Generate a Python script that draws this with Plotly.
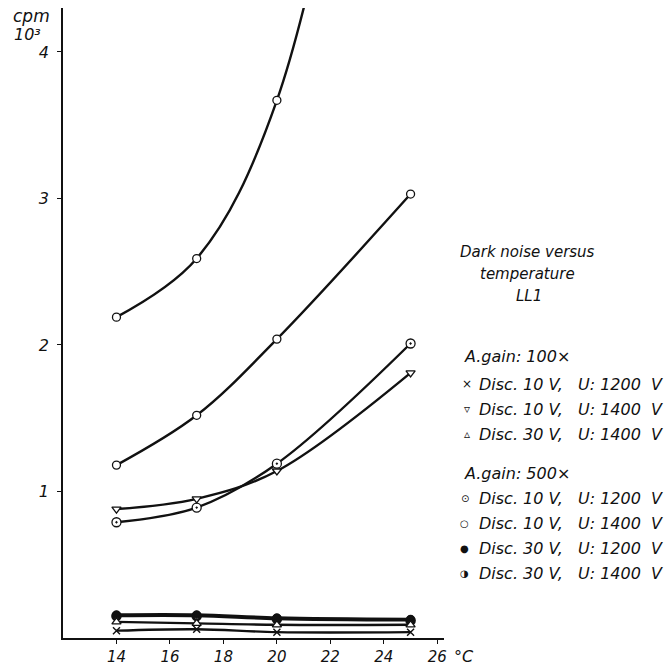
import plotly.graph_objects as go

temps = [14, 17, 20, 25]

# A.gain 100x
g100_d10_u1200 = [0.05, 0.06, 0.04, 0.04]   # x
g100_d10_u1400 = [0.88, 0.95, 1.14, 1.81]   # triangle down
g100_d30_u1400 = [0.11, 0.10, 0.09, 0.09]   # triangle up
# A.gain 500x
g500_d10_u1200 = [0.79, 0.89, 1.19, 2.01]   # circle with dot
g500_d10_u1400_a = [1.18, 1.52, 2.04, 3.03]  # open circle (lower)
g500_d10_u1400_b = [2.19, 2.59, 3.67, 8.0]   # open circle (upper, leaves chart)
g500_d30_u1200 = [0.16, 0.16, 0.14, 0.13]   # filled circle
g500_d30_u1400 = [0.15, 0.15, 0.13, 0.12]   # half circle

x_ticks = [14, 16, 18, 20, 22, 24, 26]
y_ticks = [1, 2, 3, 4]

FONT = "DejaVu Sans"
BLACK = "#111111"

fig = go.Figure()

def add(y, symbol, fill, size=8, lw=1.4):
    fig.add_trace(go.Scatter(
        x=temps, y=y, mode="lines+markers",
        line=dict(color=BLACK, width=2.4, shape="spline", smoothing=1.0),
        marker=dict(symbol=symbol, size=size, color=fill,
                    line=dict(color=BLACK, width=lw)),
        showlegend=False, hoverinfo="skip",
    ))

add(g500_d30_u1400, "circle", "white", 8, 2.6)
add(g500_d30_u1200, "circle", BLACK, 7, 1.4)
add(g100_d30_u1400, "triangle-up", "white", 8, 1.3)
add(g100_d10_u1200, "x-thin", BLACK, 7, 1.4)
add(g500_d10_u1200, "circle-dot", "white", 9, 1.3)
add(g100_d10_u1400, "triangle-down", "white", 8, 1.3)
add(g500_d10_u1400_a, "circle", "white", 8, 1.3)
add(g500_d10_u1400_b, "circle", "white", 8, 1.3)

L, R, T, B = 63, 225, 8, 32
W, H = 669, 670
PW, PH = W - L - R, H - T - B

def px(x):
    return (x - L) / PW

def py(y):
    return (H - B - y) / PH

def ann(text, x, y, xanchor="left", size=16):
    fig.add_annotation(text=text, x=px(x), y=py(y), xref="paper", yref="paper",
                       xanchor=xanchor, yanchor="middle", showarrow=False,
                       font=dict(family=FONT, size=size, color=BLACK, style="italic"))

ann("cpm", 31, 16, "center", 17)
ann("10³", 27, 35, "center", 16)
ann("°C", 464, 657, "center", 16)

ann("Dark noise versus", 527, 252, "center", 15)
ann("temperature", 527, 274, "center", 15)
ann("LL1", 529, 296, "center", 15)

NB = "\u00a0"
ann("A.gain: 100×", 462, 356)
rows100 = [("×", "Disc. 10 V," + NB * 3 + "U: 1200" + NB * 2 + "V"),
           ("▿", "Disc. 10 V," + NB * 3 + "U: 1400" + NB * 2 + "V"),
           ("▵", "Disc. 30 V," + NB * 3 + "U: 1400" + NB * 2 + "V")]
for i, (s, t) in enumerate(rows100):
    yy = 384 + i * 25
    ann(s, 467, yy, "center", 12)
    ann(t, 477, yy)

ann("A.gain: 500×", 462, 473)
rows500 = [("⊙", "Disc. 10" + NB + "V," + NB * 3 + "U: 1200" + NB * 2 + "V"),
           ("○", "Disc. 10" + NB + "V," + NB * 3 + "U: 1400" + NB * 2 + "V"),
           ("●", "Disc. 30" + NB + "V," + NB * 3 + "U: 1200" + NB * 2 + "V"),
           ("◑", "Disc. 30" + NB + "V," + NB * 3 + "U: 1400" + NB * 2 + "V")]
for i, (s, t) in enumerate(rows500):
    yy = 498 + i * 25
    ann(s, 465, yy, "center", 10)
    ann(t, 477, yy)

fig.update_layout(
    width=W, height=H,
    margin=dict(l=L, r=R, t=T, b=B, pad=0),
    paper_bgcolor="white", plot_bgcolor="white",
    font=dict(family=FONT, size=16, color=BLACK, style="italic"),
    xaxis=dict(range=[12.0, 26.25], tickvals=x_ticks, ticktext=[str(v) for v in x_ticks],
               showline=True, linecolor=BLACK, linewidth=1.6, showgrid=False, zeroline=False,
               ticks="outside", ticklen=4, tickcolor=BLACK, tickwidth=1.2,
               ticklabelstandoff=0, automargin=False,
               tickfont=dict(family=FONT, size=15, style="italic")),
    yaxis=dict(range=[0, 4.3], tickvals=y_ticks, ticktext=[str(v) for v in y_ticks],
               showline=True, linecolor=BLACK, linewidth=1.6, showgrid=False, zeroline=False,
               ticks="outside", ticklen=4, tickcolor=BLACK, tickwidth=1.2,
               ticklabelstandoff=5, automargin=False,
               tickfont=dict(family=FONT, size=16, style="italic")),
)

fig.write_html("out.html")
